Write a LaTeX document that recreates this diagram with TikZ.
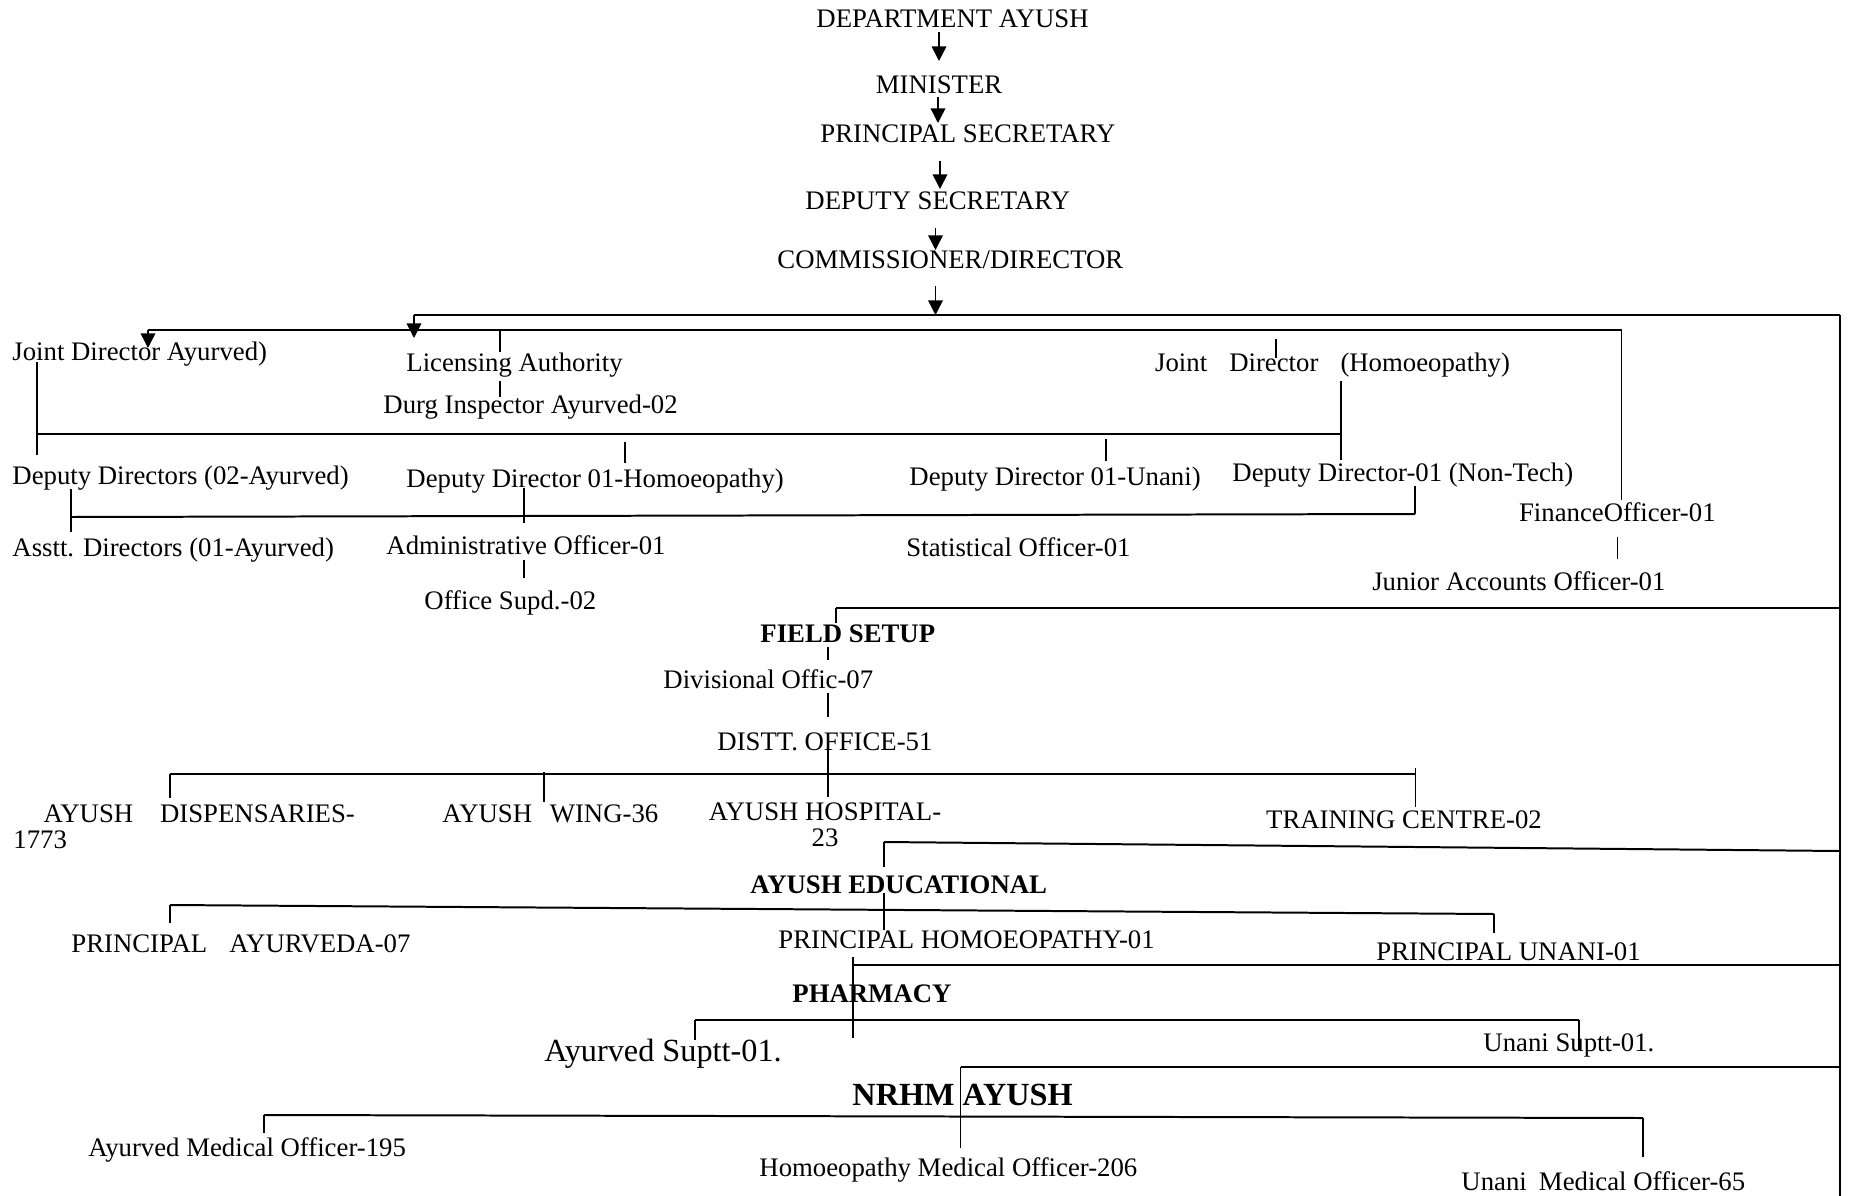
\documentclass[tikz,border=0pt]{standalone}
\usepackage{fontspec}
\setmainfont{Liberation Serif}
\usetikzlibrary{arrows.meta}
\tikzstyle{post}=[anchor=base west,inner sep=0pt,font=\fontsize{12.1}{11.8}\selectfont]
\tikzstyle{headpost}=[post,font=\fontsize{12.1}{11.8}\selectfont\bfseries]
\tikzstyle{bigpost}=[post,font=\fontsize{14.6}{16}\selectfont]
\tikzstyle{bighead}=[post,font=\fontsize{14.6}{16}\selectfont\bfseries]
\tikzstyle{arrowedge}=[draw,line width=0.7pt,-{Triangle[length=6.6pt,width=6.6pt]}]
\tikzstyle{busline}=[draw,line width=0.9pt]
\tikzstyle{linkline}=[draw,line width=0.6pt]

\begin{document}
\begin{tikzpicture}[x=0.4523pt,y=-0.4523pt]
    \useasboundingbox (0,0) rectangle (1851,1196);
    % offices
    \foreach \pos/\name/\label in {{(816,28)/dept/DEPARTMENT AYUSH}, {(875.5,94)/mini/MINISTER}, {(820,143)/psec/PRINCIPAL SECRETARY}, {(805,209)/dsec/DEPUTY SECRETARY}, {(777,268)/comm/{COMMISSIONER/DIRECTOR}},
        {(12,360)/jdayur/Joint Director Ayurved)}, {(406,371)/lic/Licensing Authority}, {(383,413)/durg/Durg Inspector Ayurved-02}, {(1154.7,371)/jdhom/Joint\hspace{10pt}Director\hspace{10pt}(Homoeopathy)},
        {(12,484)/ddayur/Deputy Directors (02-Ayurved)}, {(406,487)/ddhom/Deputy Director 01-Homoeopathy)}, {(909,485)/ddun/Deputy Director 01-Unani)}, {(1232,481)/ddnt/Deputy Director-01 (Non-Tech)},
        {(12,556)/asst/Asstt. Directors (01-Ayurved)}, {(386,554)/admin/Administrative Officer-01}, {(424,609)/osup/Office Supd.-02}, {(906,556)/stat/Statistical Officer-01}, {(1518.6,521)/fin/FinanceOfficer-01}, {(1371.8,590)/jao/Junior Accounts Officer-01},
        {(663,688)/divo/Divisional Offic-07}, {(717,750)/distt/DISTT. OFFICE-51}, {(442,822)/wing/AYUSH\hspace{8pt}WING-36}, {(1265.7,828)/train/TRAINING CENTRE-02},
        {(71,952)/pay/PRINCIPAL\hspace{10pt}AYURVEDA-07}, {(778,948)/phom/PRINCIPAL HOMOEOPATHY-01}, {(1376,960)/pun/PRINCIPAL UNANI-01}, {(1483,1051)/unst/Unani Suptt-01.},
        {(88,1156)/amo/Ayurved Medical Officer-195}, {(759,1176)/hmo/Homoeopathy Medical Officer-206}, {(1461,1190)/umo/Unani\hspace{5.5pt}Medical Officer-65}}
        \node[post] (\name) at \pos {\label};

    \foreach \pos/\name/\label in {{(760,642)/field/FIELD SETUP}, {(750,893)/educ/AYUSH EDUCATIONAL}, {(792,1002)/pharm/PHARMACY}}
        \node[headpost] (\name) at \pos {\label};
    \node[bighead] (nrhm) at (852,1105) {NRHM AYUSH};
    \node[bigpost] (ayst) at (544,1061) {Ayurved Suptt-01.};
    \node[post] (disp) at (13,822) {\begin{tabular}[t]{@{}l@{}}\hspace*{13.6pt}AYUSH\hspace{12.2pt}DISPENSARIES-\\1773\end{tabular}};
    \node[post,anchor=base] (hosp) at (825,820) {\begin{tabular}[t]{@{}c@{}}AYUSH HOSPITAL-\\23\end{tabular}};

    % junctions
    \foreach \pos/\name in {{(939,32)/ara}, {(939,61)/arb}, {(938,97)/arc}, {(938,123)/ard}, {(940,161)/are}, {(940,189)/arf}, {(935.5,228)/arg}, {(935.5,250)/arh}, {(935.5,286)/ari}, {(935.5,315)/arj},
        {(414,315)/topL}, {(414,338)/topA}, {(1840,315)/topR}, {(1840,1196)/rbot},
        {(148,330)/secL}, {(148,348)/secA}, {(1621.6,330)/secR}, {(1621.6,500)/finT},
        {(500,330)/liT}, {(500,352)/liB}, {(500,381)/dgT}, {(500,397)/dgB}, {(1276,339)/jhT}, {(1276,358)/jhB},
        {(37,362)/ayT}, {(37,434)/ayL}, {(37,455)/ayB}, {(1341,434)/ayR}, {(1341,381)/hoT}, {(1341,460)/hoB},
        {(625,442)/hmT}, {(625,463)/hmB}, {(1106,439)/unT}, {(1106,461)/unB},
        {(71,517)/ddL}, {(1415,514)/ddR}, {(71,489)/asT}, {(71,532)/asB}, {(524,488)/adT}, {(524,523)/adB}, {(1415,486)/ntT},
        {(524,560)/aoT}, {(524,578)/aoB}, {(1617.4,537)/jaT}, {(1617.4,559)/jaB},
        {(836,608)/fdL}, {(1840,608)/fdR}, {(836,623)/fdB}, {(828,647)/dvT}, {(828,660)/dvB}, {(828,693)/dsT}, {(828,717)/dsB},
        {(828,749)/dtT}, {(828,797)/dtB}, {(170,774)/dsL}, {(1415.5,774)/dsR}, {(170,798)/dpB}, {(544,772)/wgT}, {(544,802)/wgB}, {(1415.5,768)/trT}, {(1415.5,807)/trB},
        {(884,842)/edL}, {(1840,851)/edR}, {(884,867)/edB}, {(884,893)/phT}, {(884,930)/phB},
        {(170,905)/ecL}, {(1494,914)/ecR}, {(170,923)/ecB}, {(1494,933)/euB},
        {(853,965)/pmL}, {(1840,965)/pmR}, {(853,957)/pmT}, {(853,1038)/pmB},
        {(695,1020)/pcL}, {(1579,1020)/pcR}, {(695,1040)/pcB}, {(1579,1050)/puB},
        {(960.6,1067)/nrL}, {(1840,1067)/nrR}, {(960.6,1148)/nrB},
        {(264,1115)/ncL}, {(1643,1118)/ncR}, {(264,1133)/ncB}, {(1643,1157)/nuB}}
        \node[coordinate] (\name) at \pos {};

    \foreach \source/ \dest in {ara/arb, arc/ard, are/arf, arg/arh, ari/arj, topL/topA, secL/secA}
        \path[arrowedge] (\source) -- (\dest);
    \foreach \source/ \dest in {topL/topR, secL/secR, ayL/ayR, ddL/ddR, fdL/fdR, dsL/dsR, edL/edR, ecL/ecR, pmL/pmR, pcL/pcR, nrL/nrR, ncL/ncR}
        \path[busline] (\source) -- (\dest);
    \foreach \source/ \dest in {topR/rbot, secR/finT, liT/liB, dgT/dgB, jhT/jhB, ayT/ayB, hoT/hoB, hmT/hmB, unT/unB, asT/asB, adT/adB, ntT/ddR, aoT/aoB, jaT/jaB,
        fdL/fdB, dvT/dvB, dsT/dsB, dtT/dtB, dsL/dpB, wgT/wgB, trT/trB, edL/edB, phT/phB, ecL/ecB, ecR/euB, pmT/pmB, pcL/pcB, pcR/puB, nrL/nrB, ncL/ncB, ncR/nuB}
        \path[linkline] (\source) -- (\dest);
\end{tikzpicture}
\end{document}
